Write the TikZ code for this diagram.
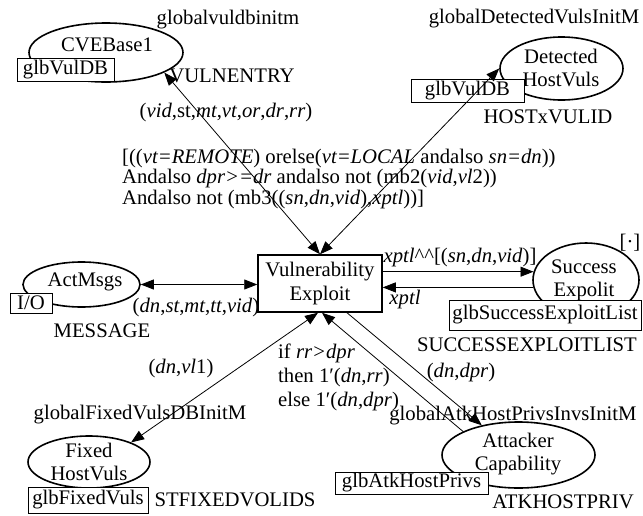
\documentclass[tikz,border=0pt]{standalone}
\usepackage{fontspec}
\setmainfont{Liberation Serif}
\usetikzlibrary{arrows.meta,shapes.geometric}
\begin{document}
\begin{tikzpicture}[x=1pt,y=-1pt,
  every node/.style={font=\fontsize{20.7}{23}\selectfont, inner sep=0pt},
  place/.style={draw, ellipse, line width=1.6pt},
  pname/.style={align=center},
  trans/.style={draw, rectangle, line width=1.5pt, minimum width=124pt,
    minimum height=57pt, align=center, font=\fontsize{20.7}{23.5}\selectfont},
  tag/.style={draw, rectangle, fill=white, line width=0.9pt, minimum height=23pt},
  inscr/.style={align=left},
  tip/.tip={Triangle[length=13pt,width=10pt]},
  arc/.style={line width=0.8pt, -tip},
  biarc/.style={line width=0.8pt, tip-tip},
]
\useasboundingbox (0,0) rectangle (643,515);
\fill[white] (0,0) rectangle (643,515);

% transition
\node[trans] (t) at (320,283.5) {Vulnerability\\Exploit};

% place CVEBase1
\node[place, minimum width=154pt, minimum height=59pt] (cve) at (106,52.5) {};
\node[pname] (cvename) at (107,45) {CVEBase1};
\node[tag, minimum width=97pt] (cvetag) at (65.5,69.5) {glbVulDB};
\node (cvetype) at (232,76) {VULNENTRY};
\node (cveinit) at (228,20) {globalvuldbinitm};

% place Detected HostVuls
\node[place, minimum width=123pt, minimum height=63pt] (det) at (561.5,68.5) {};
\node[pname] (detname) at (561,67.5) {Detected\\HostVuls};
\node[tag, minimum width=113pt] (dettag) at (467.5,90.5) {glbVulDB};
\node (dettype) at (548,117) {HOSTxVULID};
\node (detinit) at (534,19) {globalDetectedVulsInitM};

% place ActMsgs
\node[place, minimum width=117pt, minimum height=45pt] (act) at (81.5,284.5) {};
\node[pname] (actname) at (85,282) {ActMsgs};
\node[tag, minimum width=42pt, minimum height=20pt] (acttag) at (31,303) {I/O};
\node (acttype) at (102,331) {MESSAGE};

% place Success Expolit
\node[place, minimum width=106pt, minimum height=74pt] (succ) at (586,280) {};
\node[pname] (succname) at (584,280) {Success\\Expolit};
\node[tag, minimum width=192pt, minimum height=30pt] (succtag) at (545,315) {glbSuccessExploitList};
\node (succtype) at (527,345) {SUCCESSEXPLOITLIST};
\node (succinit) at (630,243) {[·]};

% place Fixed HostVuls
\node[place, minimum width=122pt, minimum height=52pt] (fix) at (89,462) {};
\node[pname] (fixname) at (89,461.5) {Fixed\\HostVuls};
\node[tag, minimum width=120pt, minimum height=26pt] (fixtag) at (88,500) {glbFixedVuls};
\node (fixtype) at (235,500) {STFIXEDVOLIDS};
\node (fixinit) at (140,415) {globalFixedVulsDBInitM};

% place Attacker Capability
\node[place, minimum width=153pt, minimum height=66pt] (atk) at (518.5,455) {};
\node[pname] (atkname) at (518,454.5) {Attacker\\Capability};
\node[tag, minimum width=153pt, minimum height=22pt] (atktag) at (411.5,483) {glbAtkHostPrivs};
\node (atktype) at (563,502) {ATKHOSTPRIV};
\node (atkinit) at (513,416) {globalAtkHostPrivsInvsInitM};

% guard of the transition
\node[inscr, anchor=west, font=\fontsize{20.7}{20.5}\selectfont] (guard) at (122,179)
  {[((\textit{vt=REMOTE}) orelse(\textit{vt=LOCAL} andalso \textit{sn=dn}))\\
   Andalso \textit{dpr>=dr} andalso not (mb2(\textit{vid},\textit{vl}2))\\
   Andalso not (mb3((\textit{sn},\textit{dn},\textit{vid}),\textit{xptl}))]};

% arc inscriptions
\node (e1) at (226,113) {(\textit{vid},st,\textit{mt},\textit{vt},\textit{or},\textit{dr},\textit{rr})};
\node (e2) at (196,308) {(\textit{dn},\textit{st},\textit{mt},\textit{tt},\textit{vid})};
\node (e3) at (460,258) {\textit{xptl}\textasciicircum\textasciicircum[(\textit{sn},\textit{dn},\textit{vid})]};
\node (e4) at (405,300) {\textit{xptl}};
\node (e5) at (181,369) {(\textit{dn},\textit{vl}1)};
\node[inscr, anchor=west, font=\fontsize{20.7}{24}\selectfont] (e6) at (278,377)
  {if \textit{rr>dpr}\\ then 1′(\textit{dn},\textit{rr})\\ else 1′(\textit{dn},\textit{dpr})};
\node (e7) at (461,373) {(\textit{dn},\textit{dpr})};

% arcs
\draw[biarc] (cve.-19) -- (t.north);
\draw[biarc] (t.north) -- (det.west);
\draw[biarc] (act.east) -- (t.west |- act.east);
\draw[arc] (t.east |- succ.171) -- (succ.171);
\draw[arc] (succ.188) -- (t.east |- succ.188);
\draw[biarc] ([xshift=-2pt]t.south) -- (fix.25);
\draw[arc] (atk.157) -- ([xshift=2pt]t.south);
\draw[arc] ([xshift=27pt]t.south) -- (atk.141);
\end{tikzpicture}
\end{document}
